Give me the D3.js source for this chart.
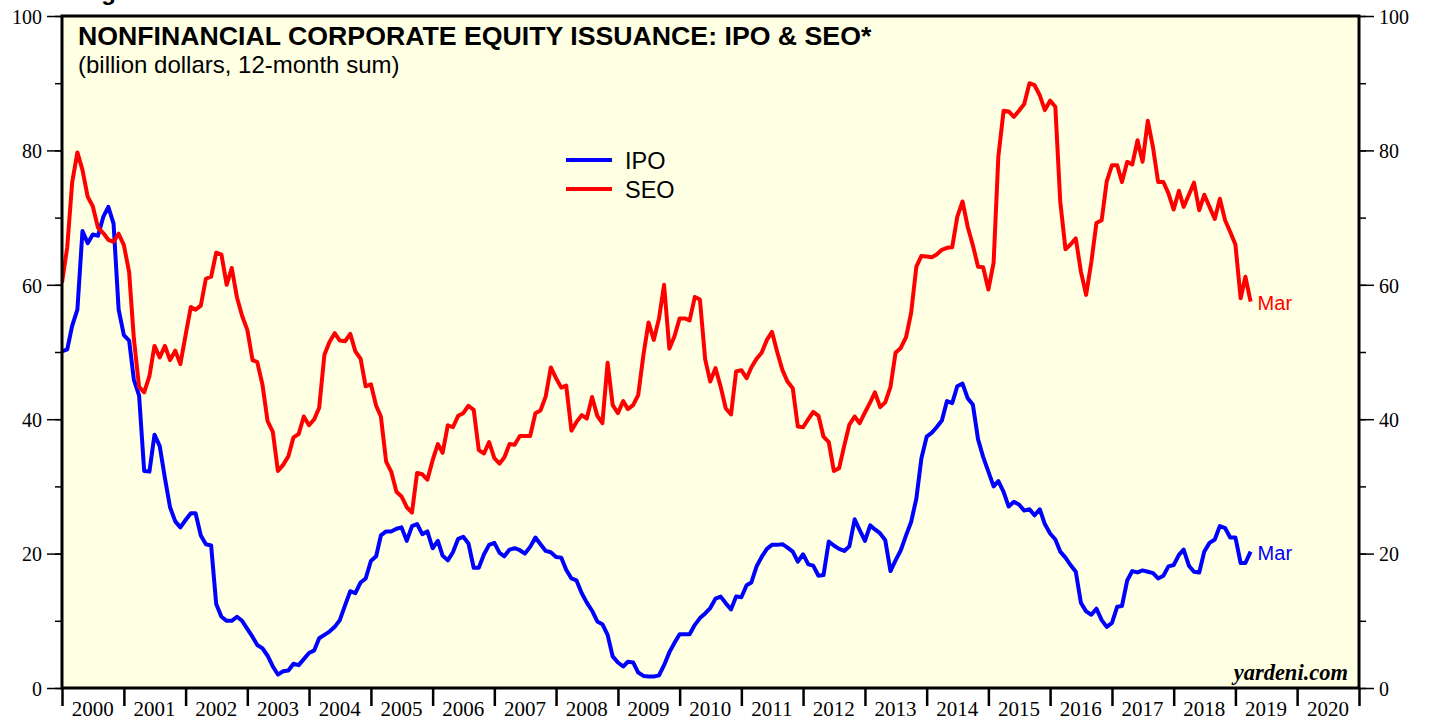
<!DOCTYPE html>
<html>
<head>
<meta charset="utf-8">
<script src="https://cdn.jsdelivr.net/npm/d3@7"></script>
<style>
  body { margin: 0; background: #fff; }
  svg { display: block; }
  .serif { font-family: "Liberation Serif", "Times New Roman", serif; }
  .sans { font-family: "Liberation Sans", Arial, sans-serif; }
</style>
</head>
<body>
<div id="chart"></div>
<script>
// 12-month sums, billion dollars, monthly from start of 2000 to Mar 2019
var seo = [
  60.3, 65.6, 75.2, 79.7, 77.1, 73.1, 71.7, 68.5, 67.7, 66.7, 66.4, 67.6,
  65.9, 61.9, 52.0, 44.8, 44.0, 46.4, 50.9, 49.2, 50.9, 48.8, 50.2, 48.2,
  52.5, 56.7, 56.3, 56.9, 60.9, 61.2, 64.8, 64.5, 60.0, 62.5, 58.1, 55.4,
  53.3, 48.8, 48.5, 45.1, 39.7, 38.1, 32.3, 33.2, 34.5, 37.3, 37.8, 40.4,
  39.1, 40.0, 41.7, 49.6, 51.5, 52.8, 51.7, 51.6, 52.7, 50.1, 49.0, 44.9,
  45.2, 42.0, 40.4, 33.7, 32.2, 29.2, 28.5, 26.9, 26.1, 32.0, 31.8, 31.0,
  33.9, 36.3, 35.0, 39.1, 38.8, 40.5, 40.9, 42.0, 41.4, 35.4, 34.9, 36.6,
  34.2, 33.4, 34.3, 36.3, 36.2, 37.5, 37.5, 37.5, 40.9, 41.3, 43.4, 47.7,
  46.1, 44.7, 45.0, 38.3, 39.6, 40.6, 40.1, 43.3, 40.5, 39.4, 48.4, 42.1,
  40.9, 42.7, 41.5, 42.1, 43.6, 49.6, 54.4, 51.8, 55.0, 60.0, 50.5, 52.3,
  55.0, 55.0, 54.7, 58.2, 57.8, 48.9, 45.6, 47.6, 44.8, 41.6, 40.7, 47.1,
  47.3, 46.1, 47.7, 49.0, 49.9, 51.8, 53.0, 50.0, 47.3, 45.6, 44.6, 38.9,
  38.8, 40.0, 41.1, 40.5, 37.4, 36.6, 32.3, 32.7, 36.1, 39.2, 40.4, 39.4,
  41.0, 42.5, 44.0, 41.8, 42.5, 44.8, 49.9, 50.6, 52.2, 55.8, 62.7, 64.3,
  64.2, 64.1, 64.5, 65.2, 65.5, 65.6, 70.1, 72.4, 68.6, 65.9, 62.7, 62.6,
  59.3, 63.3, 79.1, 85.9, 85.8, 85.0, 85.9, 86.9, 90.0, 89.7, 88.2, 86.0,
  87.4, 86.5, 72.4, 65.3, 66.0, 66.9, 62.0, 58.5, 63.4, 69.2, 69.6, 75.4,
  77.8, 77.8, 75.3, 78.3, 77.9, 81.5, 78.3, 84.4, 80.4, 75.3, 75.3, 73.6,
  71.2, 74.0, 71.6, 73.4, 75.2, 71.1, 73.4, 71.6, 69.8, 72.8, 69.6, 67.9,
  66.0, 58.0, 61.2, 57.5
]
var ipo = [
  50.1, 50.4, 53.9, 56.3, 68.0, 66.2, 67.5, 67.3, 70.1, 71.6, 69.1, 56.3,
  52.5, 51.7, 45.9, 43.5, 32.3, 32.2, 37.7, 36.0, 31.2, 26.9, 24.8, 23.9,
  25.0, 26.0, 26.0, 22.7, 21.4, 21.2, 12.5, 10.6, 10.0, 10.0, 10.6, 10.0,
  8.8, 7.6, 6.4, 5.9, 4.8, 3.2, 2.0, 2.5, 2.6, 3.6, 3.4, 4.3,
  5.2, 5.6, 7.4, 7.9, 8.4, 9.1, 10.1, 12.3, 14.4, 14.1, 15.7, 16.3,
  18.9, 19.6, 22.7, 23.3, 23.3, 23.7, 23.9, 21.9, 24.1, 24.4, 22.9, 23.3,
  20.8, 21.9, 19.7, 19.0, 20.2, 22.2, 22.5, 21.5, 17.9, 17.9, 19.9, 21.3,
  21.6, 20.1, 19.6, 20.6, 20.8, 20.5, 20.0, 21.0, 22.4, 21.4, 20.4, 20.2,
  19.5, 19.4, 17.6, 16.3, 16.0, 14.1, 12.7, 11.5, 9.9, 9.5, 7.9, 4.7,
  3.8, 3.2, 3.9, 3.8, 2.3, 1.8, 1.7, 1.7, 1.9, 3.4, 5.3, 6.7,
  8.0, 8.0, 8.0, 9.4, 10.4, 11.1, 11.9, 13.3, 13.6, 12.6, 11.7, 13.6,
  13.5, 15.3, 15.7, 18.1, 19.5, 20.7, 21.3, 21.3, 21.4, 20.9, 20.3, 18.8,
  19.9, 18.4, 18.2, 16.7, 16.8, 21.8, 21.2, 20.7, 20.4, 21.1, 25.1, 23.5,
  21.9, 24.2, 23.6, 23.0, 22.0, 17.4, 19.0, 20.5, 22.7, 24.7, 28.2, 34.2,
  37.4, 38.0, 38.8, 39.8, 42.7, 42.4, 44.9, 45.3, 43.1, 42.2, 37.0, 34.4,
  32.2, 30.0, 30.8, 29.2, 27.0, 27.7, 27.3, 26.4, 26.6, 25.7, 26.6, 24.4,
  23.0, 22.1, 20.3, 19.4, 18.3, 17.3, 12.7, 11.4, 10.9, 11.8, 10.1, 9.1,
  9.7, 12.1, 12.2, 16.0, 17.4, 17.2, 17.5, 17.3, 17.1, 16.3, 16.7, 18.1,
  18.3, 19.8, 20.6, 18.2, 17.3, 17.2, 20.3, 21.6, 22.1, 24.1, 23.8, 22.4,
  22.4, 18.6, 18.6, 20.3
]
var seriesNames = ["IPO", "SEO"]
var seriesColors = ["#0000ff", "#ff0000"]
var years = d3.range(2000, 2021)
var yTicks = [0, 20, 40, 60, 80, 100]
var yMinor = d3.range(0, 101, 10)
var lastLabel = "Mar"

var W = 1429, H = 719
var plotL = 62, plotR = 1359, plotT = 16, plotB = 688

var svg = d3.select("#chart").append("svg")
    .attr("width", W)
    .attr("height", H)

var start = new Date(2000, 0, 1)
var x = d3.scaleTime()
    .domain([start, new Date(2021, 0, 1)])
    .range([plotL, plotR])
var y = d3.scaleLinear()
    .domain([0, 100])
    .range([plotB, plotT])

// 月份点
var dates = seo.map(function (d, i) { return d3.timeMonth.offset(start, i) })

// cut off header line above the chart
svg.append("text")
    .attr("class", "sans")
    .attr("x", 80)
    .attr("y", 0)
    .attr("font-size", 24)
    .attr("font-weight", "bold")
    .text("Figure 3.")

// plot background
svg.append("rect")
    .attr("x", plotL).attr("y", plotT)
    .attr("width", plotR - plotL).attr("height", plotB - plotT)
    .attr("fill", "#ffffe4")

svg.append("clipPath").attr("id", "clip")
    .append("rect")
    .attr("x", plotL).attr("y", plotT)
    .attr("width", plotR - plotL).attr("height", plotB - plotT)

// y axes, left and right, major + minor ticks
function yAxis(axis, xpos) {
    var gMinor = svg.append("g")
        .attr("transform", "translate(" + xpos + ",0)")
        .call(axis(y).tickValues(yMinor).tickSize(7).tickFormat(""))
    var gMajor = svg.append("g")
        .attr("class", "serif")
        .attr("transform", "translate(" + xpos + ",0)")
        .call(axis(y).tickValues(yTicks).tickSize(15).tickPadding(5).tickFormat(d3.format("d")))
    ;[gMinor, gMajor].forEach(function (g) {
        g.select(".domain").remove()
        g.selectAll("line").attr("stroke", "#000").attr("stroke-width", 1.5)
    })
    gMajor.selectAll("text")
        .attr("font-size", 20)
        .attr("fill", "#000")
        .attr("dy", "0.36em")
}
yAxis(d3.axisLeft, plotL)
yAxis(d3.axisRight, plotR)

// year boundary ticks on the bottom
var gx = svg.append("g")
    .attr("transform", "translate(0," + plotB + ")")
    .call(d3.axisBottom(x)
        .tickValues(years.map(function (yr) { return new Date(yr, 0, 1) }).concat([new Date(2021, 0, 1)]))
        .tickSize(18)
        .tickFormat(""))
gx.select(".domain").remove()
gx.selectAll("line").attr("stroke", "#000").attr("stroke-width", 2.5)

svg.selectAll(".yearLabel")
    .data(years)
    .enter()
    .append("text")
    .attr("class", "serif")
    .attr("x", function (d) { return x(new Date(d, 6, 1)) })
    .attr("y", 716)
    .attr("text-anchor", "middle")
    .attr("font-size", 21)
    .text(function (d) { return d })

// the two lines
var line = d3.line()
    .x(function (d, i) { return x(dates[i]) })
    .y(function (d) { return y(d) })

var plot = svg.append("g").attr("clip-path", "url(#clip)")
;[ipo, seo].forEach(function (vals, k) {
    plot.append("path")
        .datum(vals)
        .attr("d", line)
        .attr("fill", "none")
        .attr("stroke", seriesColors[k])
        .attr("stroke-width", 4)
        .attr("stroke-linejoin", "round")
})

// 末端标签 Mar
;[ipo, seo].forEach(function (vals, k) {
    var n = vals.length - 1
    svg.append("text")
        .attr("class", "sans")
        .attr("x", x(dates[n]) + 7)
        .attr("y", y(vals[n]) + 8)
        .attr("font-size", 20)
        .attr("fill", seriesColors[k])
        .text(lastLabel)
})

// frame
svg.append("rect")
    .attr("x", plotL).attr("y", plotT)
    .attr("width", plotR - plotL).attr("height", plotB - plotT)
    .attr("fill", "none")
    .attr("stroke", "#000")
    .attr("stroke-width", 3)

// title
svg.append("text")
    .attr("class", "sans")
    .attr("x", 78).attr("y", 45)
    .attr("font-size", 26.7)
    .attr("font-weight", "bold")
    .text("NONFINANCIAL CORPORATE EQUITY ISSUANCE: IPO & SEO*")
svg.append("text")
    .attr("class", "sans")
    .attr("x", 78).attr("y", 73)
    .attr("font-size", 24)
    .text("(billion dollars, 12-month sum)")

// legend
var legend = svg.append("g").attr("transform", "translate(566,160)")
seriesNames.forEach(function (name, k) {
    legend.append("line")
        .attr("x1", 0).attr("x2", 46)
        .attr("y1", k * 29).attr("y2", k * 29)
        .attr("stroke", seriesColors[k])
        .attr("stroke-width", 4)
    legend.append("text")
        .attr("class", "sans")
        .attr("x", 59).attr("y", k * 29 + 8.5)
        .attr("font-size", 23.5)
        .text(name)
})

svg.append("text")
    .attr("class", "serif")
    .attr("x", 1348).attr("y", 680)
    .attr("text-anchor", "end")
    .attr("font-size", 22.5)
    .attr("font-weight", "bold")
    .attr("font-style", "italic")
    .text("yardeni.com")
</script>
</body>
</html>
